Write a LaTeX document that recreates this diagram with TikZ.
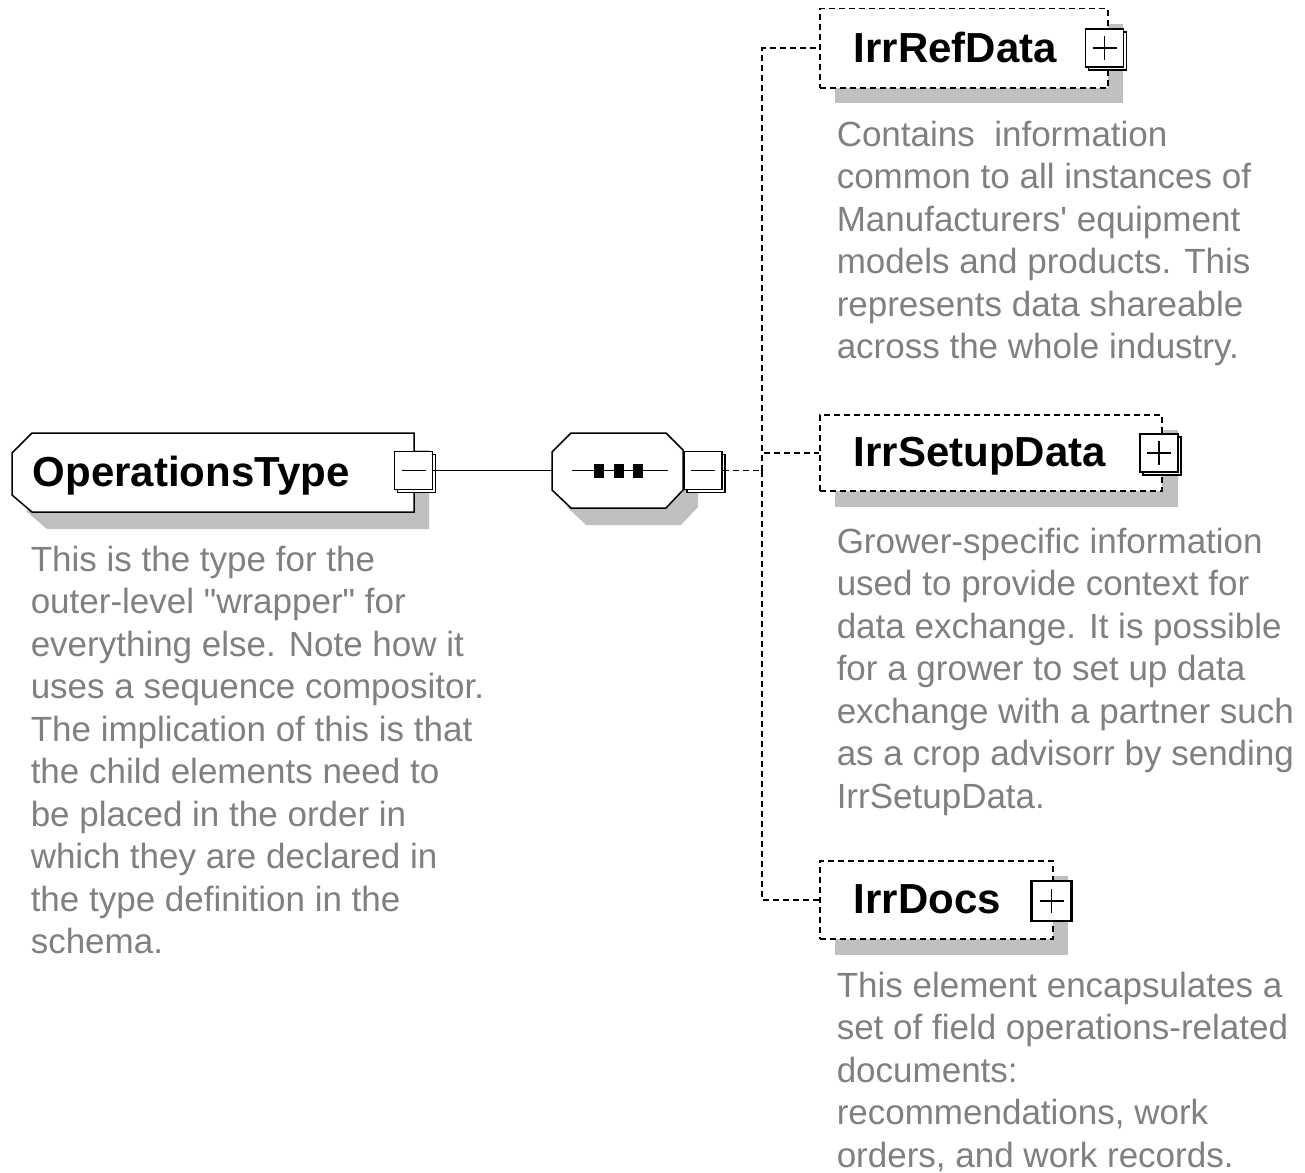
\documentclass[tikz,border=0pt]{standalone}
\usepackage{fontspec}
\setmainfont{Liberation Sans}
\usetikzlibrary{shadows}
\tikzset{
  shade box/.style={fill=black!25,draw=none},
  toggle/.style={draw,fill=white,line width=1.5pt,minimum size=38pt,inner sep=0pt,
    copy shadow={shadow xshift=3pt,shadow yshift=-3pt}},
  minus/.style={toggle,path picture={
    \draw[line width=1.4pt] ([xshift=-12pt]path picture bounding box.center) -- ([xshift=12pt]path picture bounding box.center);}},
  plus/.style={toggle,path picture={
    \draw[line width=1.4pt] ([xshift=-12pt]path picture bounding box.center) -- ([xshift=12pt]path picture bounding box.center)
      ([yshift=-12pt]path picture bounding box.center) -- ([yshift=12pt]path picture bounding box.center);}},
  elem/.style={draw,dash pattern=on 6pt off 4pt,line width=1.5pt,fill=white,inner sep=0pt,anchor=north west},
  link/.style={dash pattern=on 6pt off 4pt,line width=1.5pt},
  title/.style={font=\fontsize{42}{42}\selectfont\bfseries,inner sep=0pt,anchor=base west},
  note/.style={font=\fontsize{35}{42.5}\selectfont,text=black!50,align=left,inner sep=0pt,anchor=north west}
}

\begin{document}
\begin{tikzpicture}[x=1pt,y=-1pt,line width=1.5pt]
\useasboundingbox (0,0) rectangle (1305,1172);

% root element
\fill[shade box,shift={(15,17)}] (12,453) -- (32,433) -- (414,433) -- (414,512) -- (32,512) -- (12,495) -- cycle;
\draw[fill=white] (12,453) -- (32,433) -- (414,433) -- (414,512) -- (32,512) -- (12,495) -- cycle;
\node[title] (optype) at (32,486) {OperationsType};
\node[minus] (opmin) at (413.5,470.5) {};
\node[note] (opnote) at (30,545) {This is the type for the\\
  outer-level \textquotedbl wrapper\textquotedbl\ for\\
  everything else. Note how it\\
  uses a sequence compositor.\\
  The implication of this is that\\
  the child elements need to\\
  be placed in the order in\\
  which they are declared in\\
  the type definition in the\\
  schema.};

% sequence compositor
\fill[shade box,shift={(15,17)}] (552,452) -- (571,433) -- (666,433) -- (683,450) -- (683,490) -- (666,508) -- (571,508) -- (552,490) -- cycle;
\draw[fill=white] (552,452) -- (571,433) -- (666,433) -- (683,450) -- (683,490) -- (666,508) -- (571,508) -- (552,490) -- cycle;
\coordinate (seq) at (552,470.5);
\draw (572,470.5) -- (668,470.5);
\foreach \x in {599,619,638}
  \fill (\x-5,463.5) rectangle (\x+5,477.5);
\node[minus] (seqmin) at (703,470.5) {};
\draw (opmin.east) -- (seq);

% children
\coordinate (fork) at (762,470.5);
\draw[link] (seqmin.east) -- (fork);

\fill[shade box] (835,24) rectangle (1123,103);
\node[elem,minimum width=288pt,minimum height=79pt] (ref) at (819,8) {};
\node[title] (reflabel) at (853,63) {IrrRefData};
\node[plus] (refplus) at (1104.5,48) {};
\node[note] (refnote) at (836,120) {Contains\ \ information\\
  common to all instances of\\
  Manufacturers\textquotesingle\ equipment\\
  models and products. This\\
  represents data shareable\\
  across the whole industry.};

\fill[shade box] (835,430) rectangle (1178,507);
\node[elem,minimum width=342pt,minimum height=76pt] (setup) at (819,414) {};
\node[title] (setuplabel) at (853,466) {IrrSetupData};
\node[plus] (setupplus) at (1159,453) {};
\node[note] (setupnote) at (836,527) {Grower-specific information\\
  used to provide context for\\
  data exchange. It is possible\\
  for a grower to set up data\\
  exchange with a partner such\\
  as a crop advisorr by sending\\
  IrrSetupData.};

\fill[shade box] (835,876) rectangle (1068,955);
\node[elem,minimum width=233pt,minimum height=78pt] (docs) at (819,860) {};
\node[title] (docslabel) at (853,913) {IrrDocs};
\node[draw,fill=white,line width=2.4pt,minimum size=40pt,inner sep=0pt] (docsplus) at (1051.5,901) {};
\draw[line width=1.4pt] ([xshift=-12pt]docsplus.center) -- ([xshift=12pt]docsplus.center)
  ([yshift=-12pt]docsplus.center) -- ([yshift=12pt]docsplus.center);
\node[note] (docsnote) at (836,971) {This element encapsulates a\\
  set of field operations-related\\
  documents:\\
  recommendations, work\\
  orders, and work records.};

\draw[link] (fork) |- (ref.west);
\draw[link] (fork) |- (setup.west);
\draw[link] (fork) |- (docs.west);
\end{tikzpicture}
\end{document}
